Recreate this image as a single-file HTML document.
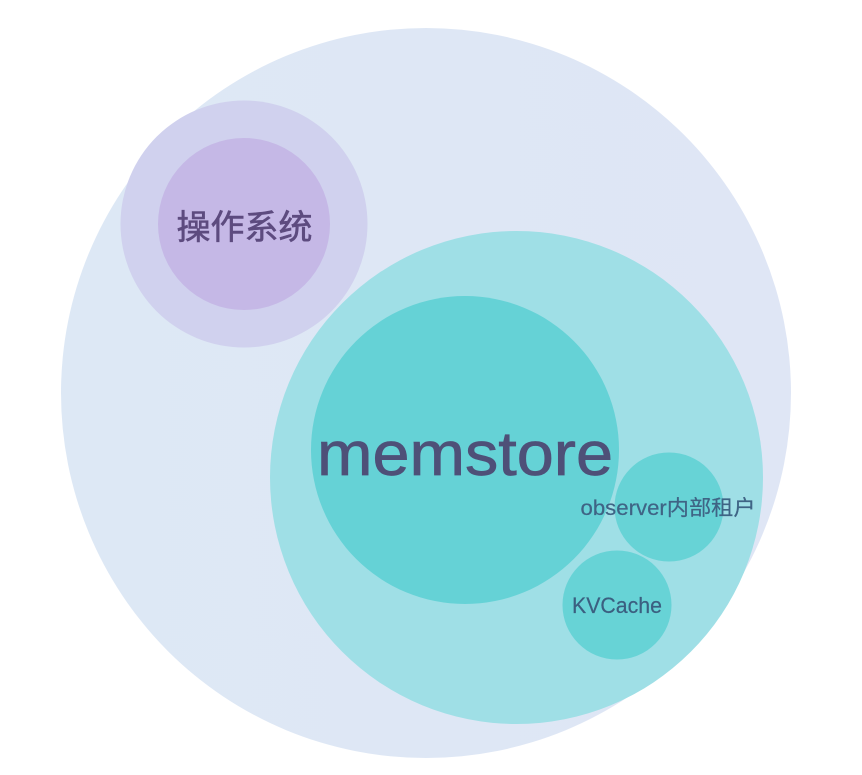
<!DOCTYPE html>
<html><head><meta charset="utf-8"><style>
html,body{margin:0;padding:0;background:#fff;width:862px;height:775px;overflow:hidden}
svg{display:block}
text{font-family:"Liberation Sans","Noto Sans CJK SC",sans-serif;text-anchor:middle}
</style></head><body>
<svg width="862" height="775" viewBox="0 0 862 775" xmlns="http://www.w3.org/2000/svg">
<defs>
<linearGradient id="bg" x1="0" y1="0" x2="1" y2="0"><stop offset="0" stop-color="#dde8f5"/><stop offset="1" stop-color="#dfe6f5"/></linearGradient>
</defs>
<circle cx="426" cy="393" r="365" fill="url(#bg)"/>
<circle cx="244" cy="224" r="123.500" fill="#d0d1ee"/>
<circle cx="244" cy="224" r="86" fill="#c5b8e6"/>
<circle cx="516.500" cy="477.500" r="246.500" fill="#9fdfe6"/>
<circle cx="465" cy="450" r="154" fill="#65d2d6"/>
<circle cx="669" cy="507" r="54.500" fill="#67d3d6"/>
<circle cx="617" cy="605" r="54.500" fill="#67d3d6"/>
<text x="244.500" y="239" font-size="34" fill="#5d4b7f" stroke="#5d4b7f" stroke-width="0.6">操作系统</text>
<text x="465" y="475" font-size="62" fill="#4e5078" stroke="#4e5078" stroke-width="0.7" textLength="296" lengthAdjust="spacingAndGlyphs">memstore</text>
<text x="668" y="515" font-size="21" fill="#3f6485" stroke="#3f6485" stroke-width="0.2" textLength="175" lengthAdjust="spacingAndGlyphs">observer内部租户</text>
<text x="617" y="613" font-size="22" fill="#3b5f80" stroke="#3b5f80" stroke-width="0.2" textLength="90" lengthAdjust="spacingAndGlyphs">KVCache</text>
</svg>
</body></html>
